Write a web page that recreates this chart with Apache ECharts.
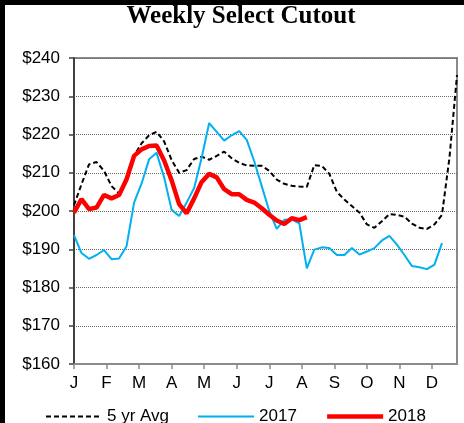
<!DOCTYPE html>
<html>
<head>
<meta charset="utf-8">
<script src="https://cdn.jsdelivr.net/npm/echarts@6/dist/echarts.min.js"></script>
<style>
  html, body { margin: 0; padding: 0; background: #000; width: 464px; height: 423px; overflow: hidden; }
  #chart { position: absolute; left: 5px; top: 5px; width: 459px; height: 418px; background: #fff; }
</style>
</head>
<body>
<div id="chart"></div>
<script>
// month labels for the week axis
const months = ['J', 'F', 'M', 'A', 'M', 'J', 'J', 'A', 'S', 'O', 'N', 'D']
const weeksPerYear = 52

// weekly select cutout, $/cwt
const avg5yr = [201.5, 207, 212.2, 212.8, 210.5, 206.5, 204.6, 207.8, 214.5, 217.7, 219.8, 220.7, 218.2,
  213.3, 210.0, 210.7, 213.6, 214.2, 213.4, 214.4, 215.5, 213.8, 212.6, 211.9, 211.8, 211.8, 210.5,
  208.2, 207.1, 206.6, 206.4, 206.3, 212.0, 211.8, 209.7, 205.0, 203.0, 201.3, 199.6, 196.5, 195.6,
  197.3, 199.2, 199.0, 198.5, 196.7, 195.6, 195.3, 196.5, 199.0, 214.0, 235.5]
const y2017 = [193.7, 189.0, 187.5, 188.5, 189.8, 187.4, 187.6, 190.8, 202.2, 207.2, 213.5, 215.2, 208.8,
  200.3, 198.7, 202.2, 206.0, 213.9, 223.0, 220.7, 218.4, 219.8, 220.9, 218.6, 213.0, 206.5, 200.0,
  195.3, 197.7, 197.8, 196.8, 185.0, 189.9, 190.5, 190.3, 188.5, 188.5, 190.3, 188.6, 189.4, 190.3,
  192.3, 193.5, 191.2, 188.5, 185.6, 185.3, 184.8, 186.0, 191.6]
const y2018 = [199.6, 203.1, 200.5, 200.9, 204.2, 203.3, 204.2, 208.3, 214.4, 216.1, 217.0, 217.1, 213.2,
  208.0, 201.8, 199.4, 203.3, 207.6, 209.7, 208.8, 205.7, 204.4, 204.4, 202.9, 202.2, 200.7, 199.0,
  197.5, 196.6, 198.1, 197.6, 198.4]

const yMin = 160
const yMax = 240
const yStep = 10

const toPairs = (arr) => arr.map((v, i) => [i, v])

const myChart = echarts.init(document.getElementById('chart'))
const option = {
  animation: false,
  textStyle: { fontFamily: 'Liberation Sans, Arial, sans-serif', color: '#000' },
  graphic: [
    {
      type: 'text',
      x: 236,
      y: 12,
      style: {
        text: 'Weekly Select Cutout',
        font: 'bold 25px "Liberation Serif", "Times New Roman", serif',
        fill: '#000',
        align: 'center',
        verticalAlign: 'middle'
      }
    }
  ],
  grid: {
    left: 69,
    right: 7,
    top: 53,
    bottom: 59,
    show: true,
    borderColor: '#8a8a8a',
    borderWidth: 2,
    backgroundColor: '#fff'
  },
  legend: {
    left: 35,
    top: 398,
    itemWidth: 56,
    itemHeight: 10,
    itemGap: 28,
    textStyle: { fontSize: 17, color: '#000' },
    // hide the marker circle, keep only the line
    itemStyle: { opacity: 0 },
    lineStyle: { width: 'inherit' },
    data: ['5 yr Avg', '2017', '2018']
  },
  xAxis: {
    type: 'value',
    min: 0,
    max: weeksPerYear - 1,
    interval: weeksPerYear / 12,
    splitLine: { show: false },
    axisLine: { lineStyle: { color: '#8a8a8a', width: 2 } },
    axisTick: { show: true, length: 5, lineStyle: { color: '#8a8a8a', width: 1.5 } },
    axisLabel: {
      fontSize: 17,
      color: '#000',
      margin: 11,
      showMaxLabel: false,
      formatter: (v) => months[Math.round(v * 12 / weeksPerYear)] || ''
    }
  },
  yAxis: {
    type: 'value',
    min: yMin,
    max: yMax,
    interval: yStep,
    axisLine: { show: true, lineStyle: { color: '#404040', width: 2 } },
    axisTick: { show: true, length: 5, lineStyle: { color: '#404040', width: 1.5 } },
    axisLabel: { fontSize: 17, color: '#000', margin: 14, formatter: '${value}' },
    splitLine: { lineStyle: { color: '#6a6a6a', type: [1, 1], width: 1 } }
  },
  series: [
    {
      name: '5 yr Avg',
      type: 'line',
      symbol: 'none',
      data: toPairs(avg5yr),
      lineStyle: { color: '#000', width: 2, type: [5, 3] },
      itemStyle: { color: '#000' }
    },
    {
      name: '2017',
      type: 'line',
      symbol: 'none',
      data: toPairs(y2017),
      lineStyle: { color: '#00b0f0', width: 2 },
      itemStyle: { color: '#00b0f0' }
    },
    {
      name: '2018',
      type: 'line',
      symbol: 'none',
      data: toPairs(y2018),
      lineStyle: { color: '#ff0000', width: 4.5 },
      itemStyle: { color: '#ff0000' }
    }
  ]
}
option && myChart.setOption(option)
</script>
</body>
</html>
